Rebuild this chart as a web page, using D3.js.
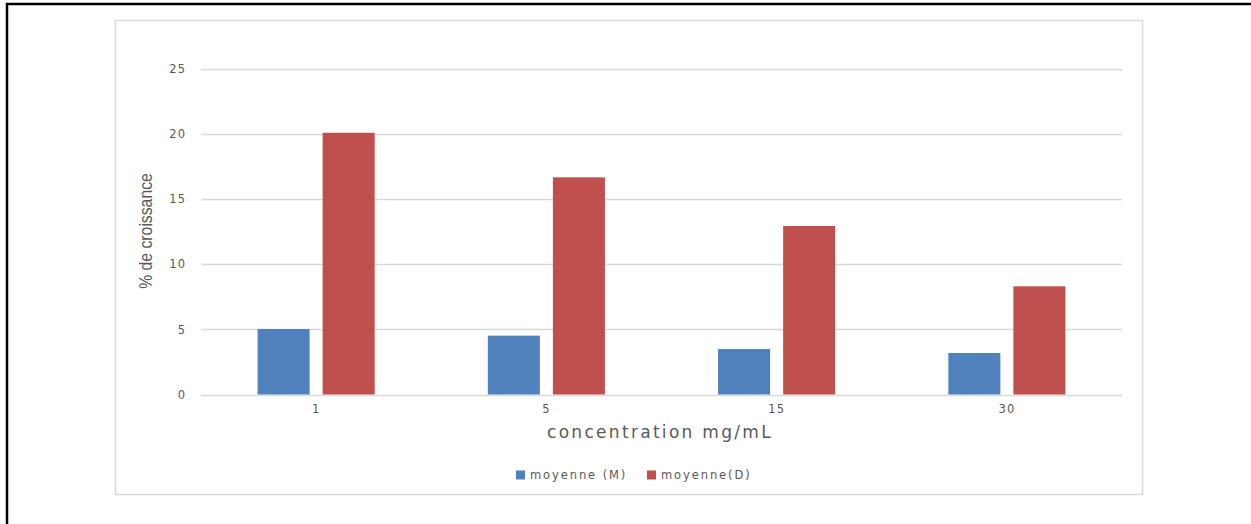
<!DOCTYPE html>
<html>
<head>
<meta charset="utf-8">
<script src="https://cdn.jsdelivr.net/npm/d3@7"></script>
<style>
  html, body { margin: 0; padding: 0; background: #fff; }
  svg { display: block; }
  text { fill: #595959; }
</style>
</head>
<body>
<svg id="chart" width="1251" height="524"></svg>
<script>
// Growth (%) by concentration, two series
const categories = ["1", "5", "15", "30"];
const seriesNames = ["moyenne (M)", "moyenne(D)"];
const valuesM = [5.03, 4.52, 3.49, 3.19];
const valuesD = [20.1, 16.68, 12.94, 8.31];
const yTicks = [0, 5, 10, 15, 20, 25];
const colors = ["#4F81BD", "#C0504D"];

const rows = categories.map((c, i) => ({ cat: c, vals: [valuesM[i], valuesD[i]] }));

const svg = d3.select("#chart");

// outer page border (left and top edges)
svg.append("line").attr("x1", 7).attr("x2", 7).attr("y1", 3).attr("y2", 524)
  .attr("stroke", "#000").attr("stroke-width", 2.5);
svg.append("line").attr("x1", 6).attr("x2", 1251).attr("y1", 4).attr("y2", 4)
  .attr("stroke", "#000").attr("stroke-width", 2.5);

// chart area frame
svg.append("rect").attr("x", 115.5).attr("y", 20.5).attr("width", 1027).attr("height", 474)
  .attr("fill", "#fff").attr("stroke", "#d9d9d9").attr("stroke-width", 1.5);

const plot = { left: 201, right: 1122, top: 69, bottom: 394.5 };

const x0 = d3.scaleBand().domain(categories).range([plot.left, plot.right])
  .paddingInner(0).paddingOuter(0);
const x1 = d3.scaleBand().domain(d3.range(seriesNames.length)).range([0, x0.bandwidth()])
  .paddingInner(0.2).paddingOuter(0.87);
const y = d3.scaleLinear().domain([0, 25]).range([plot.bottom, plot.top]);

// horizontal gridlines
svg.append("g").selectAll("line").data(yTicks).join("line")
  .attr("x1", plot.left).attr("x2", plot.right)
  .attr("y1", d => Math.round(y(d)) + 0.5).attr("y2", d => Math.round(y(d)) + 0.5)
  .attr("stroke", "#d9d9d9").attr("stroke-width", 1.3);

// y axis labels
const yAxis = d3.axisLeft(y).tickValues(yTicks).tickSize(0).tickPadding(15);
const gy = svg.append("g").attr("transform", `translate(${plot.left},0)`).call(yAxis);
gy.select(".domain").remove();
gy.selectAll("text").attr("font-family", "DejaVu Sans, sans-serif").attr("font-size", 11.5)
  .attr("fill", "#595959").attr("letter-spacing", 1);

// bars
const groups = svg.append("g").selectAll("g").data(rows).join("g")
  .attr("transform", d => `translate(${x0(d.cat)},0)`);
groups.selectAll("rect").data(d => d.vals.map((v, i) => ({ v, i }))).join("rect")
  .attr("x", d => x1(d.i))
  .attr("width", x1.bandwidth())
  .attr("y", d => y(d.v))
  .attr("height", d => y(0) - y(d.v))
  .attr("fill", d => colors[d.i]);

// x axis labels
const xAxis = d3.axisBottom(x0).tickSize(0).tickPadding(10);
const gx = svg.append("g").attr("transform", `translate(0,${plot.bottom})`).call(xAxis);
gx.select(".domain").remove();
gx.selectAll("text").attr("font-family", "DejaVu Sans, sans-serif").attr("font-size", 11.5)
  .attr("fill", "#595959").attr("letter-spacing", 1);

// axis titles
svg.append("text").attr("x", 660).attr("y", 438).attr("text-anchor", "middle")
  .attr("font-family", "DejaVu Sans, sans-serif").attr("font-size", 17)
  .attr("letter-spacing", 2.3).text("concentration mg/mL");

svg.append("text").attr("transform", "translate(152,231) rotate(-90) scale(0.83,1)").attr("text-anchor", "middle")
  .attr("font-family", "Liberation Sans, sans-serif").attr("font-size", 19)
  .text("% de croissance");

// legend
const legendItems = [{ x: 516, name: seriesNames[0], c: colors[0] }, { x: 647, name: seriesNames[1], c: colors[1] }];
const lg = svg.append("g").selectAll("g").data(legendItems).join("g")
  .attr("transform", d => `translate(${d.x},${475})`);
lg.append("rect").attr("x", 0).attr("y", -4.5).attr("width", 9).attr("height", 9).attr("fill", d => d.c);
lg.append("text").attr("x", 14).attr("y", 4).attr("font-family", "DejaVu Sans, sans-serif")
  .attr("font-size", 11.5).attr("letter-spacing", 1.9).text(d => d.name);
</script>
</body>
</html>
